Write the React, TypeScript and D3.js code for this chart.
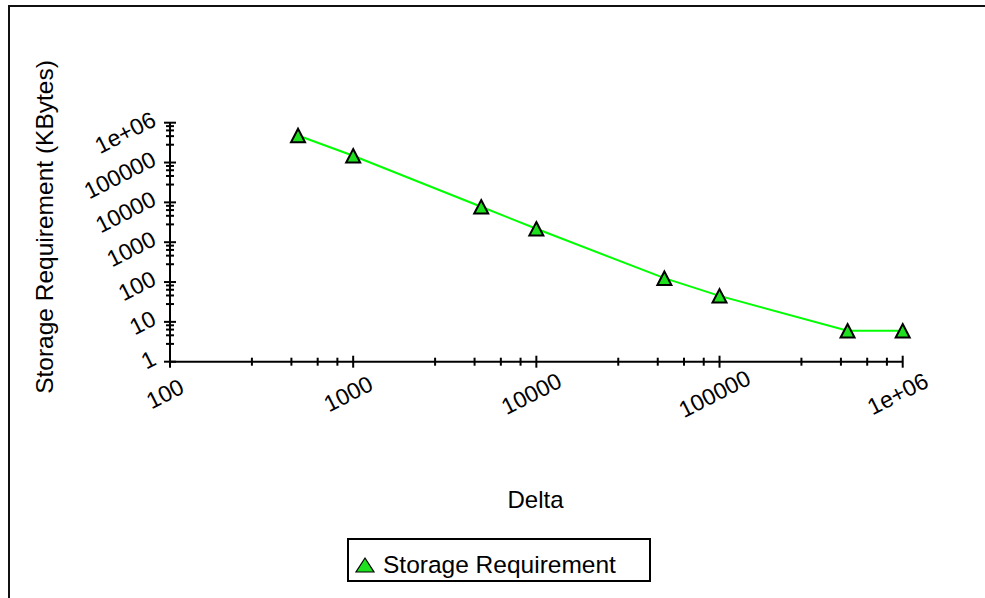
import React, { useEffect, useRef } from "react";
import * as d3 from "d3";

const deltas = [500, 1000, 5000, 10000, 50000, 100000, 500000, 1000000];
const storage = [478000, 147600, 7740, 2170, 125, 45, 5.96, 5.96];
const xTickValues = [100, 1000, 10000, 100000, 1000000];
const yTickValues = [1, 10, 100, 1000, 10000, 100000, 1000000];
const tickLabels = ["1", "10", "100", "1000", "10000", "100000", "1e+06"];
const minorFactors = [2.8, 4.6, 6.4, 8.2];
const seriesName = "Storage Requirement";
const xTitle = "Delta";
const yTitle = "Storage Requirement (KBytes)";

const W = 985;
const H = 598;
const FONT = "'Liberation Sans', Arial, Helvetica, sans-serif";

function labelFor(v: number): string {
  const i = yTickValues.indexOf(v);
  return i >= 0 ? tickLabels[i] : String(v);
}

function triPath(w: number, h: number): string {
  return `M0,${-h / 2}L${w / 2},${h / 2}L${-w / 2},${h / 2}Z`;
}

export default function App() {
  const ref = useRef<SVGSVGElement | null>(null);

  useEffect(() => {
    const svg = d3.select(ref.current);
    svg.selectAll("*").remove();

    const x = d3.scaleLog().domain([100, 1000000]).range([170, 902.7]);
    const y = d3.scaleLog().domain([1, 1000000]).range([361.7, 122.7]);

    // outer frame
    svg.append("rect")
      .attr("x", 9).attr("y", 6).attr("width", W + 20).attr("height", H + 20)
      .attr("fill", "none").attr("stroke", "#111").attr("stroke-width", 2);

    const minorX: number[] = [];
    for (let i = 0; i < xTickValues.length - 1; i++) {
      minorFactors.forEach((f) => minorX.push(xTickValues[i] * f));
    }
    const minorY: number[] = [];
    for (let i = 0; i < yTickValues.length - 1; i++) {
      minorFactors.forEach((f) => minorY.push(yTickValues[i] * f));
    }

    const axisY = y(1);
    const axisX = x(100);
    const g = svg.append("g").attr("stroke", "#000").attr("stroke-width", 2);

    g.append("line").attr("x1", axisX).attr("x2", x(1000000)).attr("y1", axisY).attr("y2", axisY);
    g.append("line").attr("x1", axisX).attr("x2", axisX).attr("y1", axisY).attr("y2", y(1000000));

    g.selectAll(".xmaj").data(xTickValues).enter().append("line")
      .attr("x1", (d) => x(d)).attr("x2", (d) => x(d))
      .attr("y1", axisY - 6).attr("y2", axisY + 6);
    g.selectAll(".xmin").data(minorX).enter().append("line")
      .attr("x1", (d) => x(d)).attr("x2", (d) => x(d))
      .attr("y1", axisY - 4).attr("y2", axisY + 4);
    g.selectAll(".ymaj").data(yTickValues).enter().append("line")
      .attr("y1", (d) => y(d)).attr("y2", (d) => y(d))
      .attr("x1", axisX - 6).attr("x2", axisX + 6);
    g.selectAll(".ymin").data(minorY).enter().append("line")
      .attr("y1", (d) => y(d)).attr("y2", (d) => y(d))
      .attr("x1", axisX - 4).attr("x2", axisX + 4);

    svg.selectAll(".xl").data(xTickValues).enter().append("text")
      .attr("transform", (d) => `translate(${x(d) - 5},${axisY + 32}) rotate(-27)`)
      .attr("text-anchor", "middle").attr("dominant-baseline", "central")
      .attr("font-family", FONT).attr("font-size", 23).attr("fill", "#000")
      .text((d) => labelFor(d));

    svg.selectAll(".yl").data(yTickValues).enter().append("text")
      .attr("transform", (d) => `translate(${axisX - 16},${y(d) - 5}) rotate(-27)`)
      .attr("text-anchor", "end").attr("dominant-baseline", "central")
      .attr("font-family", FONT).attr("font-size", 23).attr("fill", "#000")
      .text((d) => labelFor(d));

    svg.append("text").attr("x", 535.5).attr("y", 508)
      .attr("text-anchor", "middle").attr("font-family", FONT).attr("font-size", 24)
      .text(xTitle);
    svg.append("text").attr("transform", `translate(53,227) rotate(-90)`)
      .attr("text-anchor", "middle").attr("font-family", FONT).attr("font-size", 24.5)
      .text(yTitle);

    const pts = deltas.map((d, i) => [d, storage[i]] as [number, number]);
    const line = d3.line<[number, number]>().x((d) => x(d[0])).y((d) => y(d[1]));
    svg.append("path").datum(pts).attr("d", line)
      .attr("fill", "none").attr("stroke", "#00ff00").attr("stroke-width", 2);

    svg.selectAll(".pt").data(pts).enter().append("path")
      .attr("d", triPath(14, 13.5))
      .attr("transform", (d) => `translate(${x(d[0])},${y(d[1])})`)
      .attr("fill", "#1ee01e").attr("stroke", "#000").attr("stroke-width", 2)
      .attr("stroke-linejoin", "miter");

    svg.append("rect").attr("x", 348).attr("y", 539).attr("width", 302).attr("height", 42)
      .attr("fill", "#fff").attr("stroke", "#000").attr("stroke-width", 2);
    svg.append("path").attr("d", triPath(18, 14)).attr("transform", `translate(365,565)`)
      .attr("fill", "#1ee01e").attr("stroke", "#000").attr("stroke-width", 1.2);
    svg.append("text").attr("x", 383).attr("y", 573)
      .attr("font-family", FONT).attr("font-size", 24.5).text(seriesName);
  }, []);

  return (
    <svg ref={ref} width={W} height={H}
      style={{ position: "absolute", left: 0, top: 0, background: "#fff" }} />
  );
}
